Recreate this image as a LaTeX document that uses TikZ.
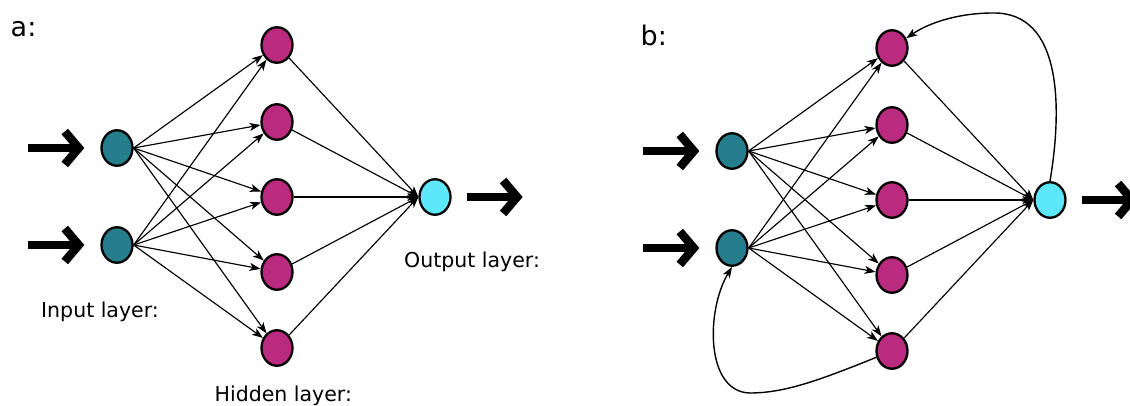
\documentclass[tikz,border=0pt]{standalone}
\usepackage{fontspec}
\setmainfont{DejaVu Sans}
\usepackage{tikz}
\usetikzlibrary{positioning,shapes.geometric,arrows.meta}
\definecolor{inteal}{RGB}{38,125,140}
\definecolor{hidmag}{RGB}{186,42,126}
\definecolor{outcyan}{RGB}{92,232,250}

\begin{document}
\begin{tikzpicture}[
    x=1pt, y=-1pt,
    neuron/.style={ellipse, draw, line width=2.3pt, minimum width=31pt, minimum height=35.5pt, inner sep=0pt},
    inneuron/.style={neuron, fill=inteal},
    hidneuron/.style={neuron, fill=hidmag},
    outneuron/.style={neuron, fill=outcyan},
    edge/.style={line width=1.15pt, -{Stealth[length=11pt, width=8pt, inset=3pt]}},
    loopedge/.style={edge, line width=1.4pt},
    bigarrow/.style={line width=8.5pt, -{Straight Barb[length=14pt, width=33pt]}},
    layer/.style={font=\fontsize{20.5}{24}\selectfont, inner sep=0pt, anchor=base west},
    panel/.style={font=\fontsize{27}{32}\selectfont, inner sep=0pt, anchor=base west},
]
\useasboundingbox (0,0) rectangle (1130,406);

% Panel a - feed-forward
\node[panel] (labA) at (10.5,37) {a:};

\node[inneuron] (inA1) at (117,148) {};
\node[inneuron] (inA2) at (117,245) {};

\node[hidneuron] (hA1) at (277,45) {};
\node[hidneuron] (hA2) at (277,122) {};
\node[hidneuron] (hA3) at (277,197) {};
\node[hidneuron] (hA4) at (277,272) {};
\node[hidneuron] (hA5) at (277,348) {};

\node[outneuron] (outA) at (435,197) {};

\coordinate[left=72pt of inA1] (srcA1);
\coordinate[left=16pt of inA1] (tipA1);
\coordinate[left=72pt of inA2] (srcA2);
\coordinate[left=16pt of inA2] (tipA2);
\coordinate[right=15pt of outA] (srcOutA);
\coordinate[right=71pt of outA] (tipOutA);

\draw[bigarrow] (srcA1) -- (tipA1);
\draw[bigarrow] (srcA2) -- (tipA2);
\draw[bigarrow] (srcOutA) -- (tipOutA);

\draw[edge] (inA1.east) -- (hA1);
\draw[edge] (inA1.east) -- (hA2);
\draw[edge] (inA1.east) -- (hA3);
\draw[edge] (inA1.east) -- (hA4);
\draw[edge] (inA1.east) -- (hA5);
\draw[edge] (inA2.east) -- (hA1);
\draw[edge] (inA2.east) -- (hA2);
\draw[edge] (inA2.east) -- (hA3);
\draw[edge] (inA2.east) -- (hA4);
\draw[edge] (inA2.east) -- (hA5);

\draw[edge] (hA1) -- (outA.west);
\draw[edge] (hA2) -- (outA.west);
\draw[edge] (hA3) -- (outA.west);
\draw[edge] (hA4) -- (outA.west);
\draw[edge] (hA5) -- (outA.west);

\node[layer] (inLabA) at (41,317) {Input layer:};
\node[layer] (hidLabA) at (214.5,401) {Hidden layer:};
\node[layer] (outLabA) at (404,268) {Output layer:};

% Panel b - with feedback loops
\node[panel] (labB) at (640.5,46) {b:};

\node[inneuron] (inB1) at (732,151) {};
\node[inneuron] (inB2) at (732,248) {};

\node[hidneuron] (hB1) at (892,48) {};
\node[hidneuron] (hB2) at (892,125) {};
\node[hidneuron] (hB3) at (892,200) {};
\node[hidneuron] (hB4) at (892,275) {};
\node[hidneuron] (hB5) at (892,351) {};

\node[outneuron] (outB) at (1050,200) {};

\coordinate[left=72pt of inB1] (srcB1);
\coordinate[left=16pt of inB1] (tipB1);
\coordinate[left=72pt of inB2] (srcB2);
\coordinate[left=16pt of inB2] (tipB2);
\coordinate[right=15pt of outB] (srcOutB);
\coordinate[right=71pt of outB] (tipOutB);

\draw[bigarrow] (srcB1) -- (tipB1);
\draw[bigarrow] (srcB2) -- (tipB2);
\draw[bigarrow] (srcOutB) -- (tipOutB);

\draw[edge] (inB1.east) -- (hB1);
\draw[edge] (inB1.east) -- (hB2);
\draw[edge] (inB1.east) -- (hB3);
\draw[edge] (inB1.east) -- (hB4);
\draw[edge] (inB1.east) -- (hB5);
\draw[edge] (inB2.east) -- (hB1);
\draw[edge] (inB2.east) -- (hB2);
\draw[edge] (inB2.east) -- (hB3);
\draw[edge] (inB2.east) -- (hB4);
\draw[edge] (inB2.east) -- (hB5);

\draw[edge] (hB1) -- (outB.west);
\draw[edge] (hB2) -- (outB.west);
\draw[edge] (hB3) -- (outB.west);
\draw[edge] (hB4) -- (outB.west);
\draw[edge] (hB5) -- (outB.west);

% feedback: output -> top hidden, bottom hidden -> lower input
\draw[loopedge] (outB.north) .. controls (1062,110) and (1063,12) .. (993,13)
    .. controls (960,13) and (930,22) .. (hB1);
\draw[loopedge] (hB5) .. controls (820,380) and (785,393) .. (750,393)
    .. controls (705,392) and (706,310) .. (inB2.south);

\end{tikzpicture}
\end{document}
